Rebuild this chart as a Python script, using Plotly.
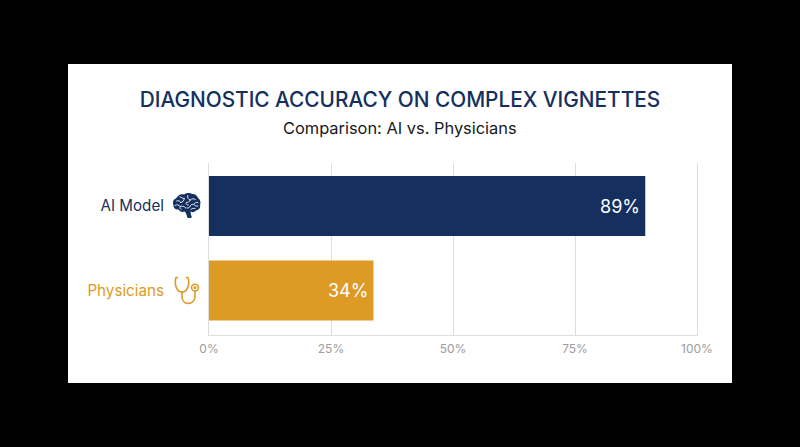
import base64
import plotly.graph_objects as go

categories = ["AI Model", "Physicians"]
values = [89.4, 33.7]
bar_colors = ["#15305f", "#dd9a25"]
value_labels = ["89%", "34%"]
tick_vals = [0, 25, 50, 75, 100]
tick_text = ["0%", "25%", "50%", "75%", "100%"]
title_text = "DIAGNOSTIC ACCURACY ON COMPLEX VIGNETTES"
subtitle_text = "Comparison: AI vs. Physicians"

W, H = 800, 447
L, R, T, B = 209, 697, 163, 335
FONT = "Inter"


def px(x):
    return (x - L) / (R - L)


def py(y):
    return (B - y) / (B - T)


def svg_uri(svg):
    return "data:image/svg+xml;base64," + base64.b64encode(svg.encode()).decode()


BRAIN = """<svg xmlns="http://www.w3.org/2000/svg" viewBox="0 0 56 52" width="168" height="156">
<path fill="#15305f" d="M10 8 C13 3 20 3 23 4 C27 0 35 0 38 3 C44 2 49 6 50 11 C55 14 56 21 54 25
C56 30 52 36 46 36 C43 40 39 40 36 38 C35 41 36 45 38 49 C36 52 32 52 29 50 C28 45 27 41 24 38
C19 40 14 38 12 34 C6 35 1 31 2 25 C-1 20 2 13 7 12 C8 10 9 9 10 8 Z"/>
<g fill="none" stroke="#ffffff" stroke-width="1.7" stroke-linecap="round" stroke-linejoin="round">
<path d="M8 17 C12 15 15 17 16 20 M16 20 C20 19 23 17 23 12 M14 8 C17 11 20 11 23 12"/>
<path d="M5 26 C9 23 13 25 15 28 C19 26 23 28 26 31 M15 28 C14 31 15 33 17 34"/>
<path d="M30 6 C29 11 31 14 35 15 C38 12 42 12 45 14 M35 15 C34 19 30 20 27 20 C26 23 28 25 31 25"/>
<path d="M50 20 C46 19 43 21 42 24 C38 23 35 25 34 29 C32 31 30 31 28 31 M42 24 C44 27 47 28 50 27"/>
<path d="M36 34 C38 32 41 31 44 32"/>
</g></svg>"""

STETH = """<svg xmlns="http://www.w3.org/2000/svg" viewBox="0 0 26 30" width="104" height="120">
<g fill="none" stroke="#dd9a25" stroke-width="1.6" stroke-linecap="round" stroke-linejoin="round">
<path d="M3.5 1.5 H2 C1 5 1 8 2 11 C3 14 5 16.5 8 16.5 C11 16.5 13 14 14 11 C15 8 15 5 14 1.5 H12.5"/>
<path d="M8 16.5 V21 C8 25.5 10.5 28.5 14 28.5 C18 28.5 21 25.5 21 21 V15.5"/>
<circle cx="21" cy="12" r="3.5"/>
<circle cx="21" cy="12" r="0.8" fill="#dd9a25"/>
</g></svg>"""

fig = go.Figure(
    go.Bar(
        x=values,
        y=categories,
        orientation="h",
        width=0.71,
        marker=dict(color=bar_colors, line=dict(width=0)),
        hoverinfo="skip",
    )
)

value_annotations = [
    dict(
        text=t,
        x=v,
        y=c,
        xref="x",
        yref="y",
        xanchor="right",
        yanchor="middle",
        xshift=-3,
        showarrow=False,
        font=dict(family=FONT, size=18, color="#ffffff"),
    )
    for t, v, c in zip(value_labels, values, categories)
]

fig.update_layout(
    width=W,
    height=H,
    autosize=False,
    margin=dict(l=L, r=W - R, t=T, b=H - B, pad=0),
    paper_bgcolor="#000000",
    plot_bgcolor="rgba(0,0,0,0)",
    showlegend=False,
    font=dict(family=FONT),
    title=dict(
        text=title_text,
        x=0.5,
        xref="container",
        xanchor="center",
        y=1 - 99.5 / H,
        yref="container",
        yanchor="middle",
        font=dict(family=FONT, size=20.8, weight=500, color="#15305f"),
    ),
    shapes=[
        dict(
            type="rect",
            xref="paper",
            yref="paper",
            x0=px(68),
            x1=px(732),
            y0=py(64),
            y1=py(383),
            fillcolor="#ffffff",
            line=dict(width=0),
            layer="below",
        )
    ],
    annotations=[
        dict(
            text=subtitle_text,
            xref="paper",
            yref="paper",
            x=px(400),
            y=py(127.5),
            xanchor="center",
            yanchor="middle",
            showarrow=False,
            font=dict(family=FONT, size=16.4, color="#17181c"),
        )
    ]
    + value_annotations,
    images=[
        dict(
            source=svg_uri(BRAIN),
            xref="paper",
            yref="paper",
            x=px(172.5),
            y=py(192.5),
            sizex=28.5 / (R - L),
            sizey=26 / (B - T),
            xanchor="left",
            yanchor="top",
            sizing="stretch",
            layer="above",
        ),
        dict(
            source=svg_uri(STETH),
            xref="paper",
            yref="paper",
            x=px(174),
            y=py(276),
            sizex=26 / (R - L),
            sizey=29 / (B - T),
            xanchor="left",
            yanchor="top",
            sizing="stretch",
            layer="above",
        ),
    ],
)

fig.update_xaxes(
    range=[0, 100],
    tickvals=tick_vals,
    ticktext=tick_text,
    showgrid=True,
    gridcolor="#dedede",
    gridwidth=1,
    zeroline=False,
    showline=True,
    linecolor="#dedede",
    linewidth=1,
    ticks="",
    ticklabelstandoff=3,
    tickfont=dict(family=FONT, size=12, color="#9c9c9c"),
)

colored = [
    f'<span style="color:{c}">{n}</span>' for n, c in zip(categories, bar_colors)
]
fig.update_yaxes(
    type="category",
    categoryorder="array",
    categoryarray=categories,
    range=[1.526, -0.509],
    tickmode="array",
    tickvals=categories,
    ticktext=colored,
    showgrid=False,
    zeroline=False,
    showline=True,
    mirror=True,
    linecolor="#dedede",
    linewidth=1,
    ticks="",
    ticklabelstandoff=41,
    tickfont=dict(family=FONT, size=15.2),
)

fig.write_html(
    "out.html",
    config=dict(displayModeBar=False),
    post_script="document.body.style.margin='0';document.body.style.background='#000';document.documentElement.style.overflow='hidden';",
)
